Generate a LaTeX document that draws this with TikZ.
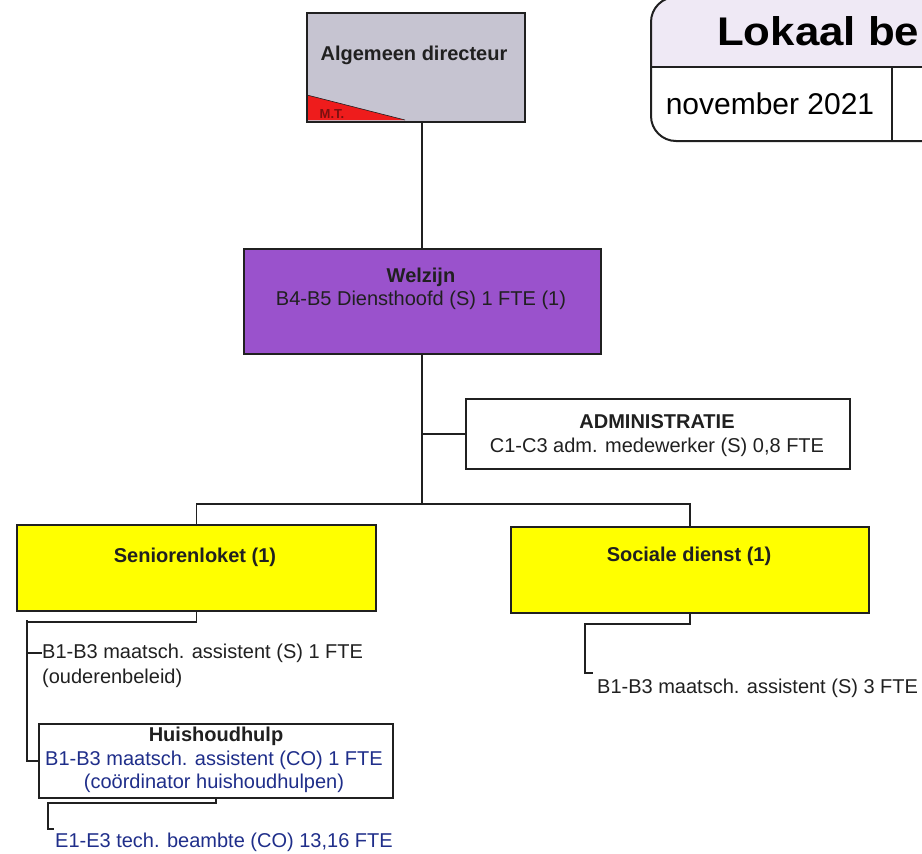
\documentclass[tikz,border=0pt]{standalone}
\usepackage{fontspec}
\setmainfont{Liberation Sans}
\definecolor{grayfill}{HTML}{C6C4D1}
\definecolor{purplefill}{HTML}{9A52CC}
\definecolor{yel}{HTML}{FFFF00}
\definecolor{navy}{HTML}{1F2E8A}
\definecolor{mtred}{HTML}{EE1C1C}
\definecolor{mttext}{HTML}{7A1010}
\definecolor{lav}{HTML}{EFE9F5}
\definecolor{ink}{HTML}{202020}
\begin{document}
\begin{tikzpicture}[x=1pt,y=-1pt,
  box/.style={draw=ink,line width=2pt,inner sep=0pt,anchor=north west},
  conn/.style={draw=ink,line width=1.8pt},
  txt/.style={font=\fontsize{20}{24}\selectfont,inner sep=0pt,align=center,text=ink},
  btxt/.style={txt,font=\fontsize{20}{24}\selectfont\bfseries},
  ltxt/.style={txt,anchor=west,align=left},
  bluetxt/.style={txt,text=navy}]
\useasboundingbox (0,0) rectangle (922,854);

% ---- title block (cut off at the right edge)
\begin{scope}
  \clip (0,0) rectangle (922,854);
  \fill[white,rounded corners=25pt] (651,-3) rectangle (990,141);
  \begin{scope}
    \clip (600,-10) rectangle (930,67);
    \fill[lav,rounded corners=25pt] (651,-3) rectangle (990,141);
  \end{scope}
  \draw[ink,line width=2pt,rounded corners=25pt] (651,-3) rectangle (990,141);
  \draw[ink,line width=2pt] (651,67) -- (930,67);
  \draw[ink,line width=2pt] (892,67) -- (892,141);
  \node[inner sep=0pt,anchor=west,text=black,font=\fontsize{40}{44}\selectfont\bfseries] (ttl) at (717,31) {\scalebox{1.095}[1]{Lokaal be}};
  \node[inner sep=0pt,text=black,font=\fontsize{30}{34}\selectfont] (date) at (770,104) {november 2021};
\end{scope}

% ---- boxes
\node[box,fill=grayfill,draw=none,minimum width=216pt,minimum height=107pt] (ad) at (307,13) {};
\fill[mtred] (307,95) -- (307,120) -- (405,120) -- cycle;
\draw[ink,line width=0.6pt] (307,95) -- (405,120);
\draw[ink,line width=2pt] (ad.north west) rectangle (ad.south east);
\node[btxt] (adt) at (414,55) {Algemeen directeur};
\node[inner sep=0pt,text=mttext,font=\fontsize{13}{14}\selectfont\bfseries] (mt) at (332,114) {M.T.};

\node[box,fill=purplefill,minimum width=357pt,minimum height=105pt] (wz) at (243,248) {};
\node[btxt] (wzt) at (421,277) {Welzijn};
\node[txt] (wzs) at (421,300) {B4-B5 Diensthoofd (S) 1 FTE (1)};

\node[box,fill=white,minimum width=384pt,minimum height=70pt] (adm) at (465,398) {};
\node[btxt] (admt) at (657,422) {ADMINISTRATIE};
\node[txt] (adms) at (657,447) {C1-C3 adm. medewerker (S) 0,8 FTE};

\node[box,fill=yel,minimum width=359pt,minimum height=86pt] (sl) at (16,524) {};
\node[btxt] (slt) at (195,557) {Seniorenloket (1)};

\node[box,fill=yel,minimum width=358pt,minimum height=86pt] (sd) at (510,526) {};
\node[btxt] (sdt) at (689,556) {Sociale dienst (1)};

\node[box,fill=white,minimum width=354pt,minimum height=74pt] (hh) at (38,723) {};
\node[btxt] (hht) at (216,736) {Huishoudhulp};
\node[bluetxt] (hh1) at (214,760) {B1-B3 maatsch. assistent (CO) 1 FTE};
\node[bluetxt] (hh2) at (214,783) {(coördinator huishoudhulpen)};

% ---- free text entries
\node[ltxt] (sla1) at (42,653) {B1-B3 maatsch. assistent (S) 1 FTE};
\node[ltxt] (sla2) at (42,678) {(ouderenbeleid)};
\node[ltxt,text=navy] (e1) at (55,842) {E1-E3 tech. beambte (CO) 13,16 FTE};
\node[ltxt] (sdc) at (597,688) {B1-B3 maatsch. assistent (S) 3 FTE};

% ---- helper coordinates
\coordinate (trunk) at (422,0);
\coordinate (bar) at (0,504);
\coordinate (s1) at (27,620);
\coordinate (e1k) at (48,829);
\coordinate (sdk) at (585,673);

% ---- connectors
\draw[conn] (ad.south -| trunk) -- (wz.north -| trunk);
\draw[conn] (wz.south -| trunk) -- (trunk |- bar);
\draw[conn] (trunk |- adm.west) -- (adm.west);
\draw[conn] (sl.north) -- (sl.north |- bar) -| (sd.north);
\draw[conn] (sl.south) -- ++(0,10) -| (s1) -- (s1 |- hh.west) -- (hh.west);
\draw[conn] (s1 |- sla1.west) -- (sla1.west);
\draw[conn] (hh.south) -- ++(0,4) -| (e1k) -- ++(6,0);
\draw[conn] (sd.south) -- ++(0,10) -| (sdk) -- ++(8,0);
\end{tikzpicture}
\end{document}
